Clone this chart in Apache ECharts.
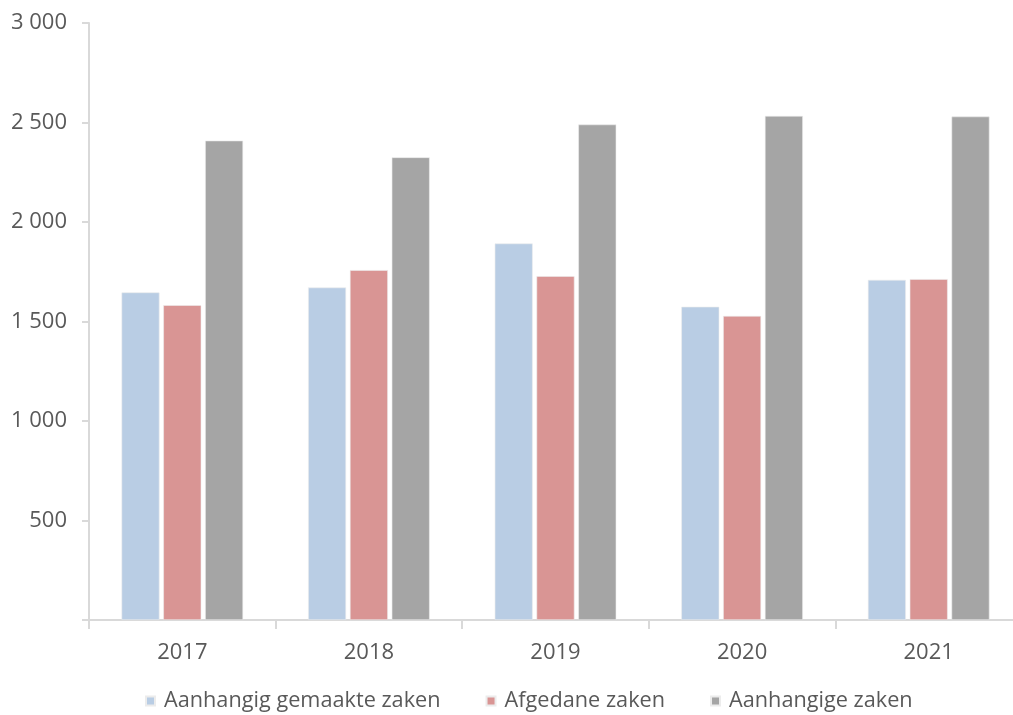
<!DOCTYPE html>
<html>
<head>
<meta charset="utf-8">
<script src="https://cdn.jsdelivr.net/npm/echarts@6/dist/echarts.min.js"></script>
<style>
  html, body { margin: 0; padding: 0; background: #fff; }
  #chart { width: 1013px; height: 715px; }
</style>
</head>
<body>
<div id="chart"></div>
<script>
(function () {
    /* gegevens */
    var years = ['2017', '2018', '2019', '2020', '2021'];
    var gemaakt = [1646, 1671, 1892, 1574, 1709];
    var afgedaan = [1582, 1758, 1728, 1528, 1713];
    var aanhangig = [2409, 2325, 2490, 2533, 2530];
    var seriesNames = ['Aanhangig gemaakte zaken', 'Afgedane zaken', 'Aanhangige zaken'];
    var colors = ['#b9cde4', '#d99594', '#a5a5a5'];

    var textColor = '#595959';
    var lineColor = '#d9d9d9';

    function fmt(v) {
        return String(v).replace(/\B(?=(\d{3})+(?!\d))/g, ' ');
    }

    function bar(i, values) {
        return {
            name: seriesNames[i],
            type: 'bar',
            data: values,
            barWidth: 38,
            barGap: '10%',
            itemStyle: { color: colors[i], borderColor: '#ececec', borderWidth: 0.6 }
        };
    }

    var chart = echarts.init(document.getElementById('chart'));
    chart.setOption({
        animation: false,
        textStyle: { fontFamily: 'Open Sans' },
        grid: { left: 89, width: 933, top: 23, bottom: 95, containLabel: false, outerBoundsMode: 'none' },
        legend: {
            top: 685,
            left: 140,
            itemWidth: 9,
            itemHeight: 9,
            itemGap: 45,
            icon: 'rect',
            textStyle: { color: textColor, fontSize: 21.7, fontFamily: 'Open Sans', padding: [0, 0, 0, 4] },
            data: seriesNames
        },
        xAxis: {
            type: 'category',
            data: years,
            axisLine: { lineStyle: { color: lineColor, width: 2 } },
            axisTick: { show: true, length: 9, lineStyle: { color: lineColor, width: 2 } },
            axisLabel: { color: textColor, fontSize: 22, margin: 22 }
        },
        yAxis: {
            type: 'value',
            min: 0,
            max: 3000,
            interval: 500,
            splitLine: { show: false },
            axisLine: { show: true, lineStyle: { color: lineColor, width: 2 } },
            axisTick: { show: true, length: 7, lineStyle: { color: lineColor, width: 2 } },
            axisLabel: {
                color: textColor,
                fontSize: 22,
                margin: 22,
                formatter: function (v) { return v === 0 ? '' : fmt(v); }
            }
        },
        series: [bar(0, gemaakt), bar(1, afgedaan), bar(2, aanhangig)]
    });
})();
</script>
</body>
</html>
